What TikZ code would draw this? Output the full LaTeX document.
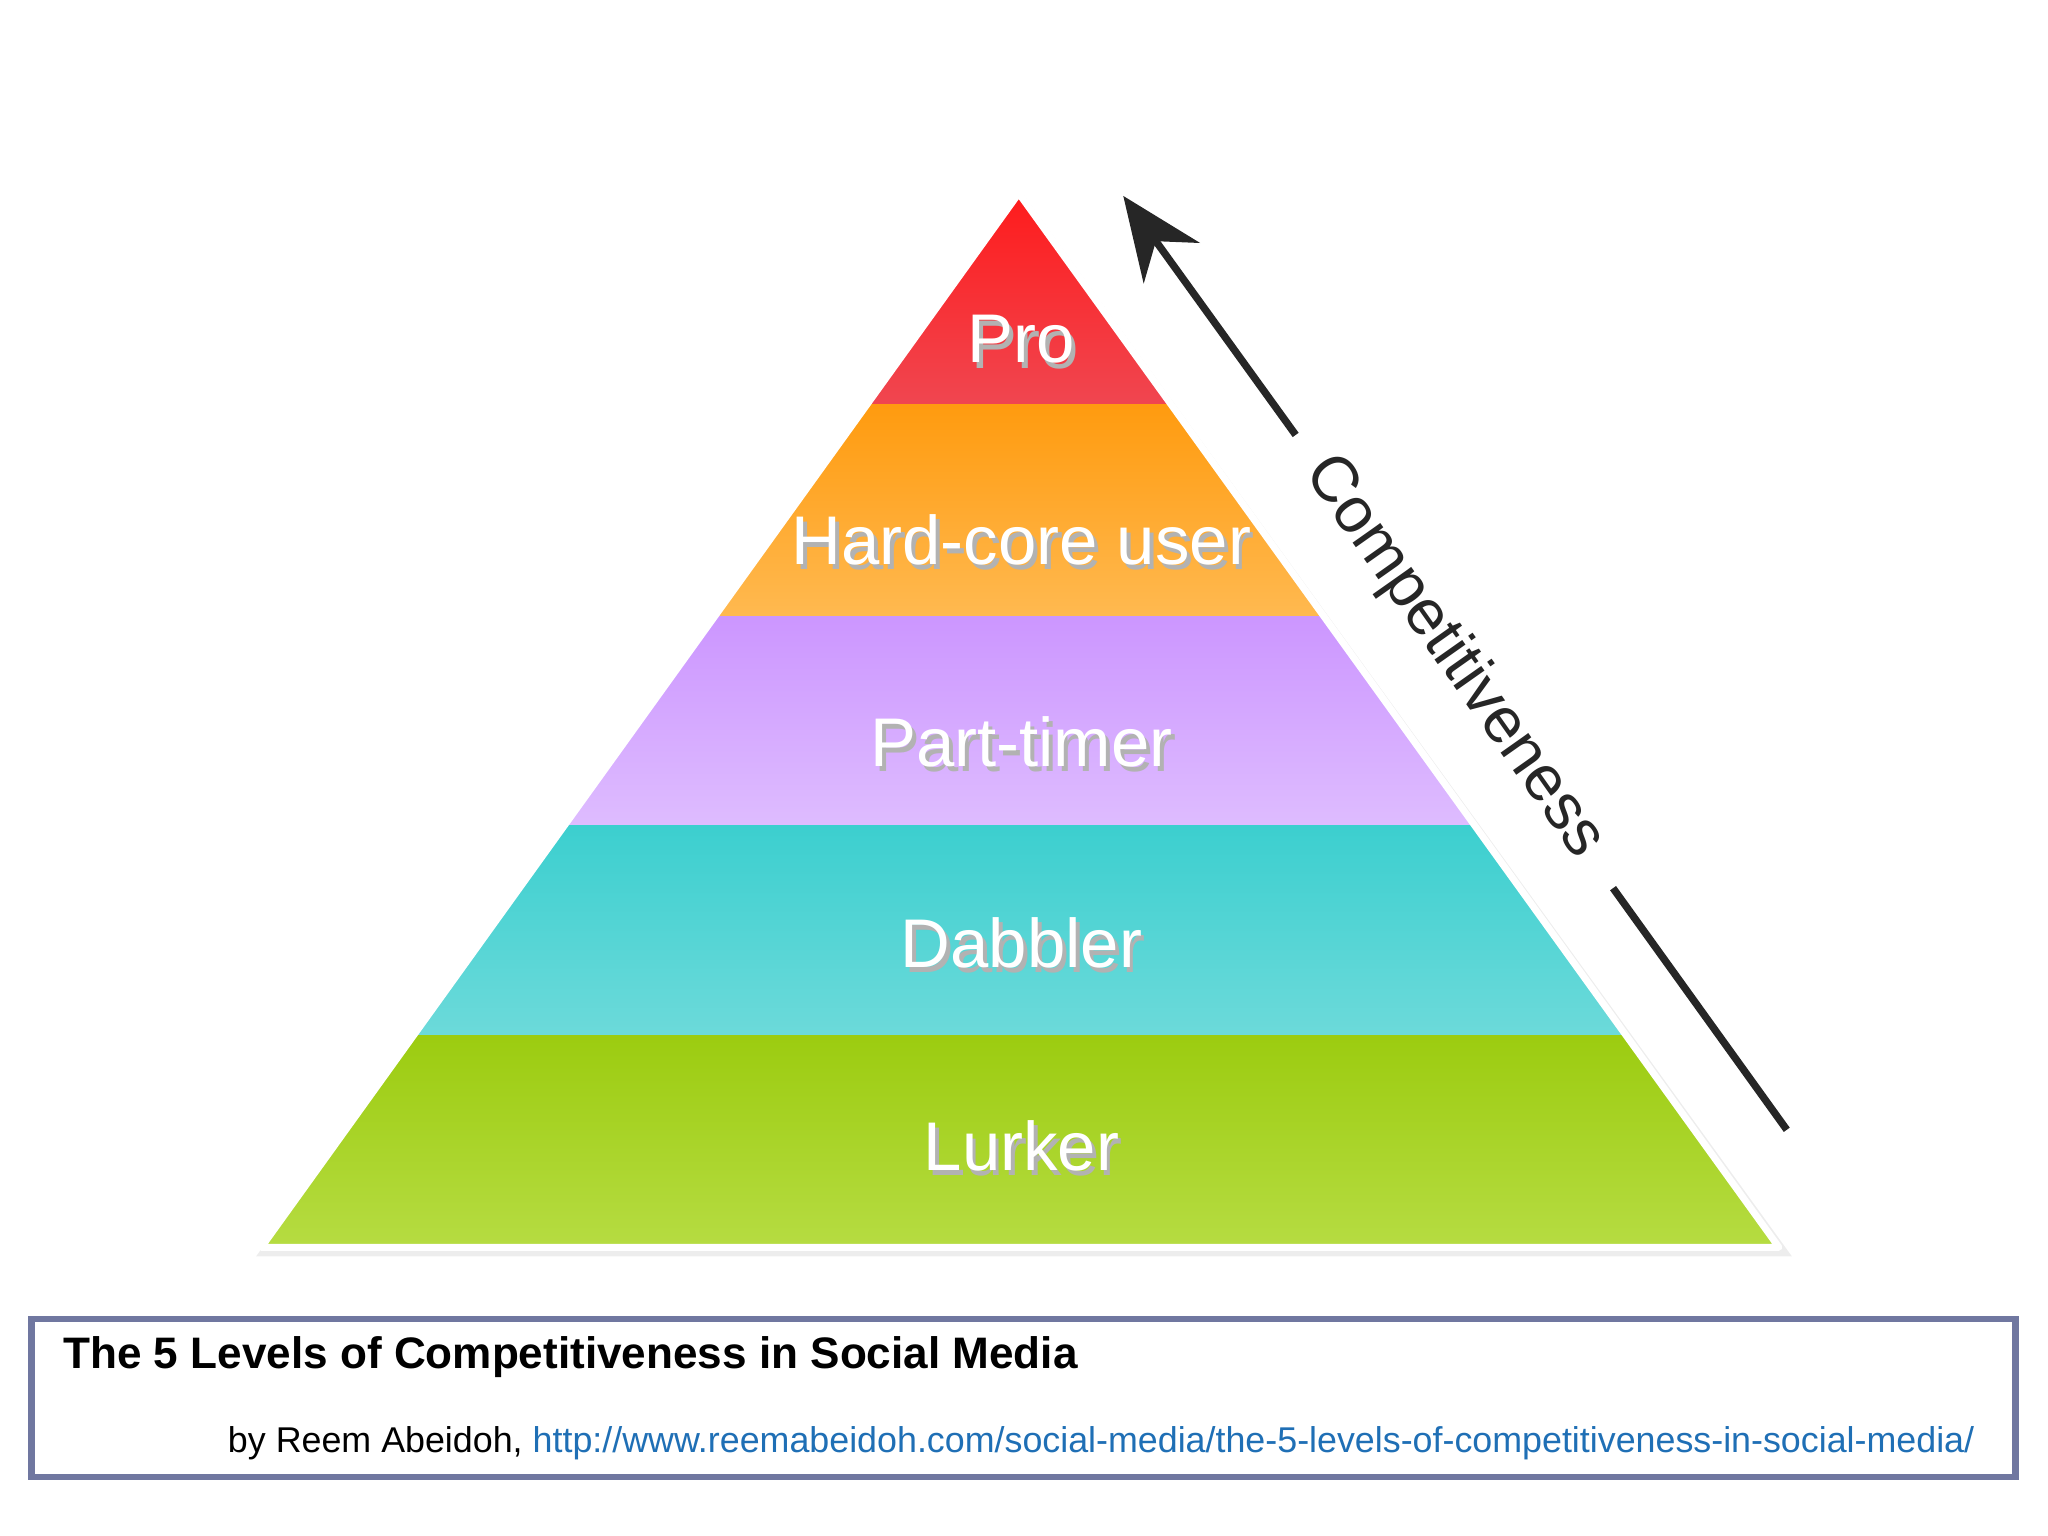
\documentclass[tikz,border=0pt]{standalone}
\usepackage{fontspec}
\setmainfont{Liberation Sans}
\usetikzlibrary{arrows.meta,shadows}
\definecolor{frame}{HTML}{7077A0}
\definecolor{link}{HTML}{1F6FB5}
\tikzset{
  lvl/.style={text=white,font=\fontsize{15}{18}\selectfont},
  lvlsh/.style={text=black!30,font=\fontsize{15}{18}\selectfont}
}
\begin{document}
\begin{tikzpicture}[x=0.01cm,y=-0.01cm]
\useasboundingbox (0,0) rectangle (1568,1176);
% shadow
\fill[black!7] (784,150) -- (1372,962) -- (196,962) -- cycle;
\begin{scope}
\clip (780,148) -- (1362,955) -- (200,955) -- cycle;
\shade[top color=red!90!white, bottom color={rgb,255:red,240;green,70;blue,80}] (190,140) rectangle (1370,310);
\shade[top color={rgb,255:red,255;green,155;blue,15}, bottom color={rgb,255:red,255;green,185;blue,80}] (190,310) rectangle (1370,472);
\shade[top color={rgb,255:red,204;green,150;blue,255}, bottom color={rgb,255:red,222;green,188;blue,255}] (190,472) rectangle (1370,632);
\shade[top color={rgb,255:red,60;green,207;blue,207}, bottom color={rgb,255:red,108;green,218;blue,218}] (190,632) rectangle (1370,793);
\shade[top color={rgb,255:red,156;green,204;blue,16}, bottom color={rgb,255:red,182;green,220;blue,66}] (190,793) rectangle (1370,955);
\end{scope}
\draw[white,line width=1.5pt,line join=round] (780,148) -- (1362,955) -- (200,955) -- cycle;
% labels
\foreach \t/\y/\n in {Pro/260/a,Hard-core user/413/b,Part-timer/568/c,Dabbler/722/d,Lurker/877/e}{
  \node[lvlsh] (s\n) at (785,\y+4) {\t};
  \node[lvl] (l\n) at (782,\y) {\t};
}
% arrow
\coordinate (a1) at (1368,865);
\coordinate (a2) at (1235,680);
\coordinate (a3) at (992,333);
\coordinate (a4) at (860,150);
\draw[black!85,line width=1.6pt] (a1) -- (a2);
\draw[black!85,line width=1.6pt,-{Stealth[length=18pt,width=15pt]}] (a3) -- (a4);
\node[rotate=-54.8,text=black!85,font=\fontsize{14}{16}\selectfont] (comp) at (1113,503) {Competitiveness};
% box
\draw[frame,line width=1.4pt] (24,1010) rectangle (1543,1131);
\node[anchor=west,font=\fontsize{9.6}{11}\selectfont\bfseries] (title) at (36,1039) {The 5 Levels of Competitiveness in Social Media};
\node[anchor=east,font=\fontsize{7.8}{9}\selectfont] (sub) at (1524,1105) {by Reem Abeidoh, \textcolor{link}{http://www.reemabeidoh.com/social-media/the-5-levels-of-competitiveness-in-social-media/}};
\end{tikzpicture}
\end{document}
